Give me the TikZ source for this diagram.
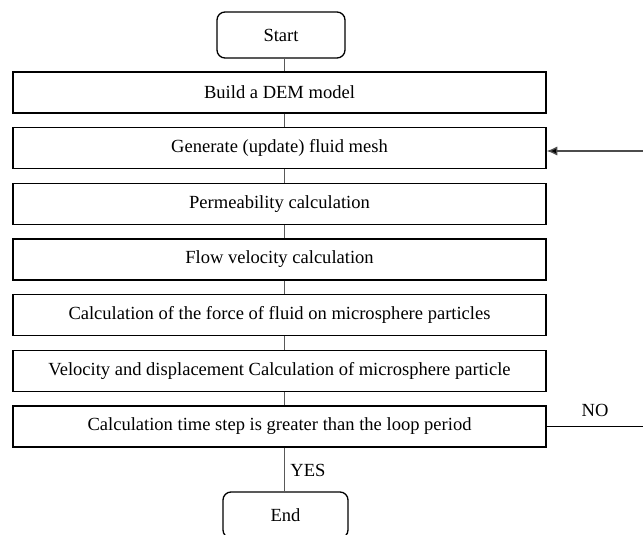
\documentclass[tikz,border=0pt]{standalone}
\usepackage{fontspec}
\setmainfont{Liberation Serif}
\usetikzlibrary{arrows.meta}

\tikzset{every picture/.style={line width=0.75pt}}
\tikzset{
  stepbox/.style={draw, line width=1pt, minimum width=399.75pt, minimum height=30.75pt, inner sep=0pt, font=\fontsize{13.9}{16}\selectfont},
  termbox/.style={draw, line width=1pt, rounded corners=6pt, minimum height=34.5pt, inner sep=0pt, font=\fontsize{13.9}{16}\selectfont},
  conn/.style={draw=black!65, line width=0.75pt},
  lbl/.style={font=\fontsize{13.9}{16}\selectfont, inner sep=0pt}
}

\begin{document}
\begin{tikzpicture}[x=0.75pt,y=0.75pt,yscale=-1,xscale=1]
\useasboundingbox (0,0) rectangle (643,535);

%Coordinates for the spine and free ends
\coordinate (spine) at (284,0);
\coordinate (loopin) at (643,151);
\coordinate (noend) at (643,426.5);

%Shape: Rounded Rect [id:start]
\node (start) [termbox, minimum width=96pt] at (281,35) {Start};
%Shape: Rectangle
\node (build) [stepbox] at (279.5,92.5) {Build a DEM model};
%Shape: Rectangle
\node (mesh) [stepbox] at (279.5,148) {Generate (update) fluid mesh};
%Shape: Rectangle
\node (perm) [stepbox] at (279.5,204) {Permeability calculation};
%Shape: Rectangle
\node (flow) [stepbox] at (279.5,259.5) {Flow velocity calculation};
%Shape: Rectangle
\node (force) [stepbox] at (279.5,315) {Calculation of the force of fluid on microsphere particles};
%Shape: Rectangle
\node (disp) [stepbox] at (279.5,371) {Velocity and displacement Calculation of microsphere particle};
%Shape: Rectangle
\node (check) [stepbox] at (279.5,426.5) {Calculation time step is greater than the loop period};
%Shape: Rounded Rect [id:end]
\node (end) [termbox, minimum width=93.75pt] at (285.5,515) {End};

%Straight Lines
\draw [conn] (start.south -| spine) -- (build.north -| spine) ;
\draw [conn] (build.south -| spine) -- (mesh.north -| spine) ;
\draw [conn] (mesh.south -| spine) -- (perm.north -| spine) ;
\draw [conn] (perm.south -| spine) -- (flow.north -| spine) ;
\draw [conn] (flow.south -| spine) -- (force.north -| spine) ;
\draw [conn] (force.south -| spine) -- (disp.north -| spine) ;
\draw [conn] (disp.south -| spine) -- (check.north -| spine) ;
\draw [conn] (check.south -| spine) -- (end.north -| spine) ;

%Straight Lines [loop back]
\draw [draw=black!70, line width=1pt, -{Latex[length=8pt,width=7pt,fill=black]}] (loopin) -- (mesh.east |- loopin) ;
%Straight Lines [NO branch]
\draw [line width=1pt] (check.east) -- (noend) ;

% Text Node
\node (yes) [lbl] at (308,470) {YES};
% Text Node
\node (no) [lbl] at (595,410) {NO};

\end{tikzpicture}
\end{document}
